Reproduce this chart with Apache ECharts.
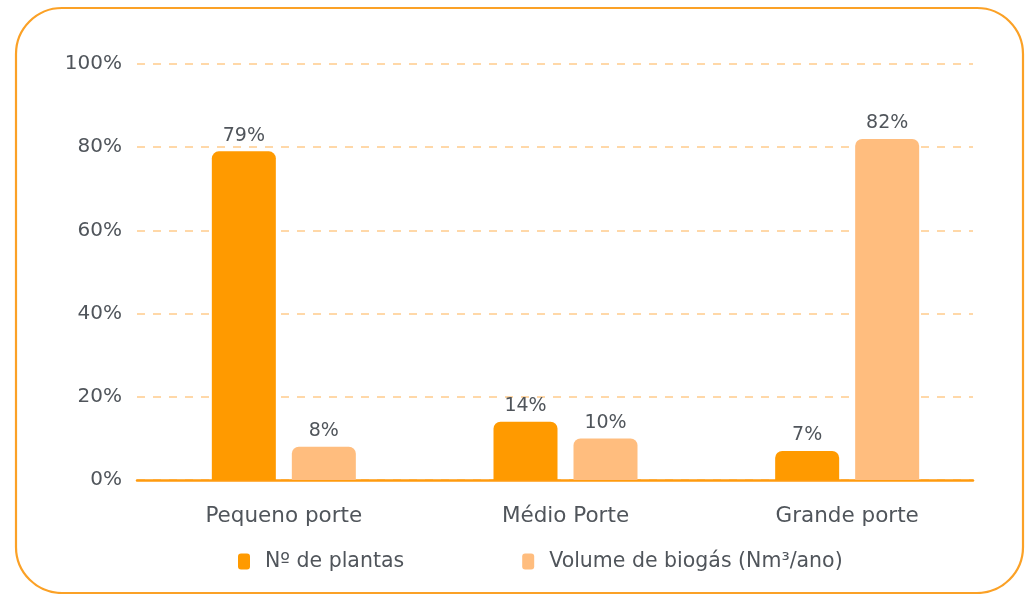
<!DOCTYPE html>
<html><head><meta charset="utf-8">
<script src="https://cdn.jsdelivr.net/npm/echarts@6/dist/echarts.min.js"></script>
<style>html,body{margin:0;padding:0;background:#fff}#c{width:1026px;height:594px}</style>
</head><body><div id="c"></div>
<script>
const categories = ['Pequeno porte', 'Médio Porte', 'Grande porte'];
const seriesNames = ['Nº de plantas', 'Volume de biogás (Nm³/ano)'];
const plantas = [79, 14, 7];
const volume = [8, 10, 82];
const yTicks = [0, 20, 40, 60, 80, 100];

const FONT = '"DejaVu Sans","Noto Sans",sans-serif';
const TXT = '#50555b';
const chart = echarts.init(document.getElementById('c'), null, {renderer: 'canvas'});
chart.setOption({
  animation: false,
  backgroundColor: '#fff',
  graphic: [{
    type: 'rect', silent: true, z: -10,
    shape: {x: 16, y: 8, width: 1007, height: 585, r: 46},
    style: {fill: 'none', stroke: '#FBA126', lineWidth: 2.2}
  }],
  legend: {
    data: seriesNames, bottom: 17, left: 233,
    itemWidth: 12, itemHeight: 16, itemGap: 118, icon: 'roundRect',
    textStyle: {fontFamily: FONT, fontSize: 20.5, color: TXT, padding: [0, 0, 0, 10]}
  },
  grid: [
    {left: 143, right: 38, top: 64, bottom: 114},
    {left: 137, right: 53, top: 64, bottom: 114}
  ],
  xAxis: [
    {type: 'category', gridIndex: 0, data: categories,
     axisLine: {show: false}, axisTick: {show: false},
     axisLabel: {margin: 25, fontFamily: FONT, fontSize: 21.5, color: TXT}},
    {type: 'category', gridIndex: 1, data: categories,
     axisLine: {show: true, lineStyle: {color: '#FF9B0F', width: 2.5}},
     axisTick: {show: false}, axisLabel: {show: false}}
  ],
  yAxis: [
    {type: 'value', gridIndex: 0, min: 0, max: 100, interval: 20,
     show: false, splitLine: {show: false}},
    {type: 'value', gridIndex: 1, min: 0, max: 100, interval: 20,
     axisLine: {show: false}, axisTick: {show: false},
     axisLabel: {margin: 15, formatter: v => yTicks.includes(v) ? v + '%' : '', fontFamily: FONT, fontSize: 20, color: TXT},
     splitLine: {show: true, lineStyle: {color: '#FFD8A8', width: 2, type: [8, 8]}}}
  ],
  series: [
    {name: seriesNames[0], type: 'bar', xAxisIndex: 0, yAxisIndex: 0, data: plantas,
     barWidth: 64, barGap: '25%',
     itemStyle: {color: '#FF9A00', borderRadius: [7, 7, 0, 0]},
     label: {show: true, position: 'top', distance: 6, formatter: '{c}%', fontFamily: FONT, fontSize: 19, color: TXT}},
    {name: seriesNames[1], type: 'bar', xAxisIndex: 0, yAxisIndex: 0, data: volume,
     barWidth: 64, barGap: '25%',
     itemStyle: {color: '#FFBD7E', borderRadius: [7, 7, 0, 0]},
     label: {show: true, position: 'top', distance: 6, formatter: '{c}%', fontFamily: FONT, fontSize: 19, color: TXT}}
  ]
});
</script></body></html>
